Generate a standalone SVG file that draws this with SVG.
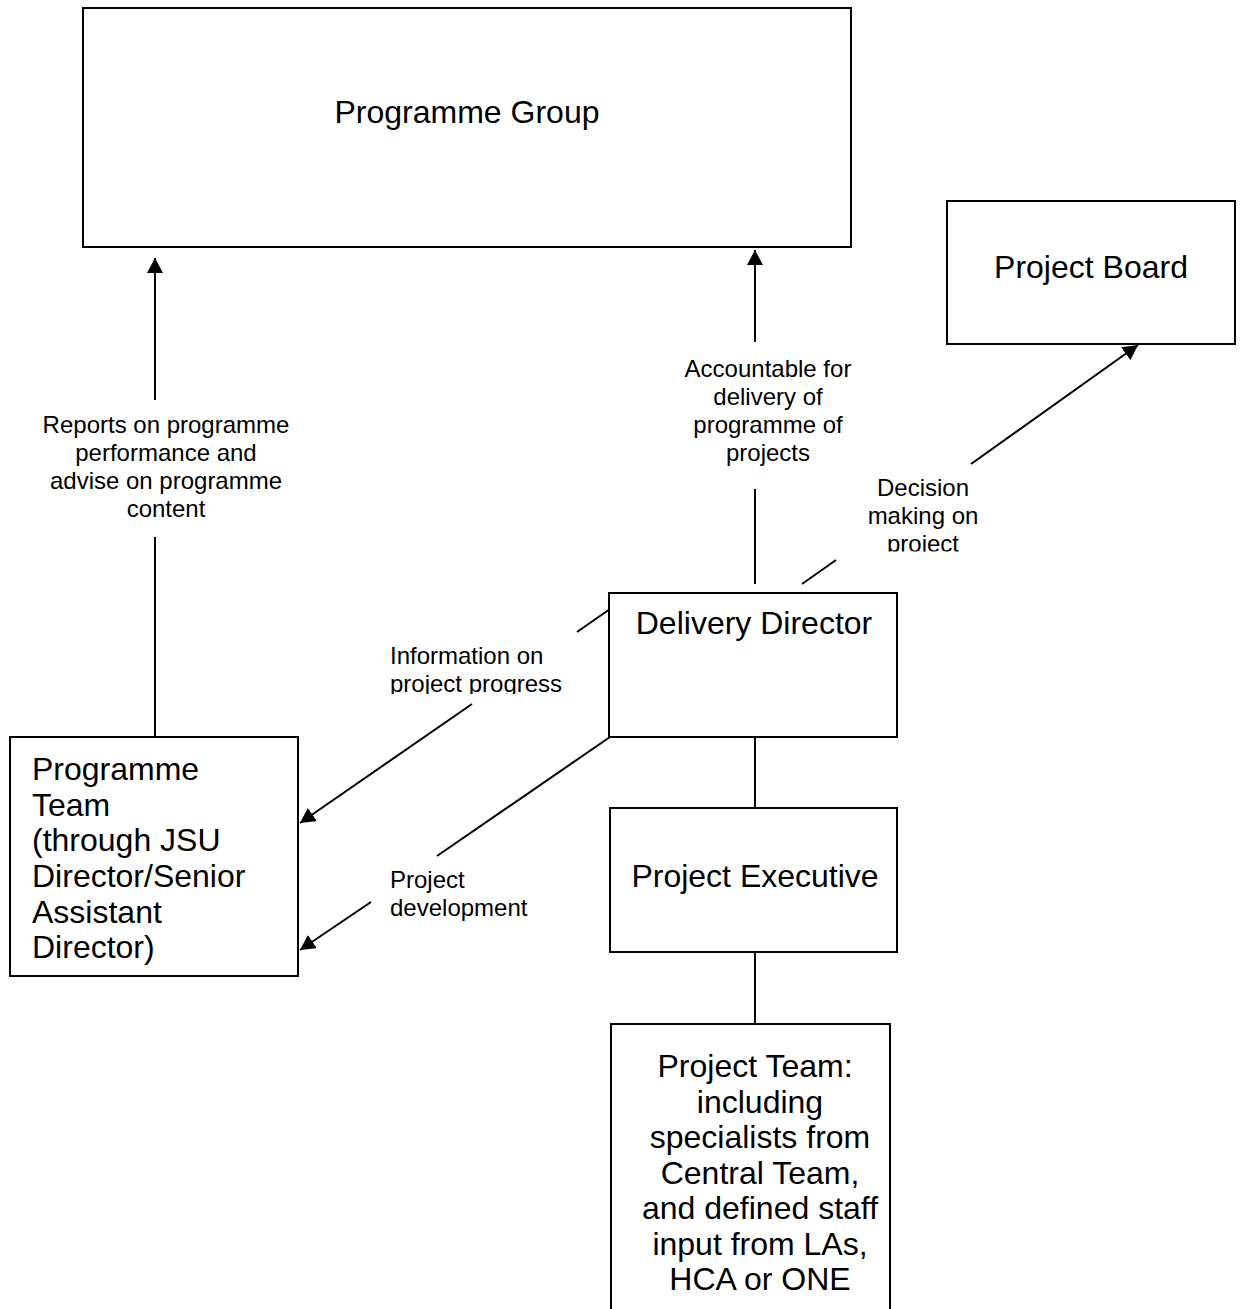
<svg xmlns="http://www.w3.org/2000/svg" width="1243" height="1309" viewBox="0 0 1243 1309">
<style>
.box{fill:#fff;stroke:#000;stroke-width:2}
.bt{font-family:"Liberation Sans",Arial,sans-serif;font-size:32px;fill:#000}
.lt{font-family:"Liberation Sans",Arial,sans-serif;font-size:24px;fill:#000}
.c{text-anchor:middle}
.ln{stroke:#000;stroke-width:2;fill:none}
</style>
<defs>
<marker id="ah" markerUnits="userSpaceOnUse" markerWidth="16" markerHeight="16" refX="15" refY="8" orient="auto" viewBox="0 0 16 16">
<path d="M0,0 L15,8 L0,16 z" fill="#000"/>
</marker>
<clipPath id="clipDec"><rect x="850" y="470" width="150" height="81.5"/></clipPath>
<clipPath id="clipInfo"><rect x="380" y="640" width="200" height="54"/></clipPath>
</defs>
<rect width="1243" height="1309" fill="#fff"/>
<g id="connectors">
<line class="ln" x1="155" y1="737" x2="155" y2="537"/>
<line class="ln" x1="155" y1="400" x2="155" y2="258" marker-end="url(#ah)"/>
<line class="ln" x1="755" y1="584" x2="755" y2="489"/>
<line class="ln" x1="755" y1="342" x2="755" y2="250" marker-end="url(#ah)"/>
<line class="ln" x1="802" y1="584" x2="836" y2="560"/>
<line class="ln" x1="971" y1="464" x2="1138" y2="345" marker-end="url(#ah)"/>
<line class="ln" x1="610" y1="609" x2="577" y2="632"/>
<line class="ln" x1="472" y1="704" x2="300" y2="823" marker-end="url(#ah)"/>
<line class="ln" x1="610" y1="737" x2="437" y2="856"/>
<line class="ln" x1="371" y1="902" x2="300" y2="950" marker-end="url(#ah)"/>
<line class="ln" x1="755" y1="737" x2="755" y2="808"/>
<line class="ln" x1="755" y1="952" x2="755" y2="1024"/>
<text class="lt c" x="166"><tspan x="166" y="433">Reports on programme</tspan><tspan x="166" y="461">performance and</tspan><tspan x="166" y="489">advise on programme</tspan><tspan x="166" y="517">content</tspan></text>
<text class="lt c" x="768"><tspan x="768" y="377">Accountable for</tspan><tspan x="768" y="405">delivery of</tspan><tspan x="768" y="433">programme of</tspan><tspan x="768" y="461">projects</tspan></text>
<g clip-path="url(#clipDec)"><text class="lt c" x="923"><tspan x="923" y="496">Decision</tspan><tspan x="923" y="524">making on</tspan><tspan x="923" y="552">project</tspan></text></g>
<g clip-path="url(#clipInfo)"><text class="lt"><tspan x="390" y="664">Information on</tspan><tspan x="390" y="692">project progress</tspan></text></g>
<text class="lt"><tspan x="390" y="888">Project</tspan><tspan x="390" y="916">development</tspan></text>
</g>
<g id="programme-group">
<rect class="box" x="83" y="8" width="768" height="239"/>
<text class="bt c" x="467" y="123">Programme Group</text>
</g>
<g id="project-board">
<rect class="box" x="947" y="201" width="288" height="143"/>
<text class="bt c" x="1091" y="278">Project Board</text>
</g>
<g id="delivery-director">
<rect class="box" x="609" y="593" width="288" height="144"/>
<text class="bt c" x="754" y="634">Delivery Director</text>
</g>
<g id="project-executive">
<rect class="box" x="610" y="808" width="287" height="144"/>
<text class="bt c" x="755" y="887">Project Executive</text>
</g>
<g id="programme-team">
<rect class="box" x="10" y="737" width="288" height="239"/>
<text class="bt"><tspan x="32" y="780">Programme</tspan><tspan x="32" y="816">Team</tspan><tspan x="32" y="851">(through JSU</tspan><tspan x="32" y="887">Director/Senior</tspan><tspan x="32" y="923">Assistant</tspan><tspan x="32" y="958">Director)</tspan></text>
</g>
<g id="project-team">
<rect class="box" x="611" y="1024" width="279" height="300"/>
<text class="bt c"><tspan x="755" y="1077">Project Team:</tspan><tspan x="760" y="1113">including</tspan><tspan x="760" y="1148">specialists from</tspan><tspan x="760" y="1184">Central Team,</tspan><tspan x="760" y="1219">and defined staff</tspan><tspan x="760" y="1255">input from LAs,</tspan><tspan x="760" y="1290">HCA or ONE</tspan></text>
</g>
</svg>
